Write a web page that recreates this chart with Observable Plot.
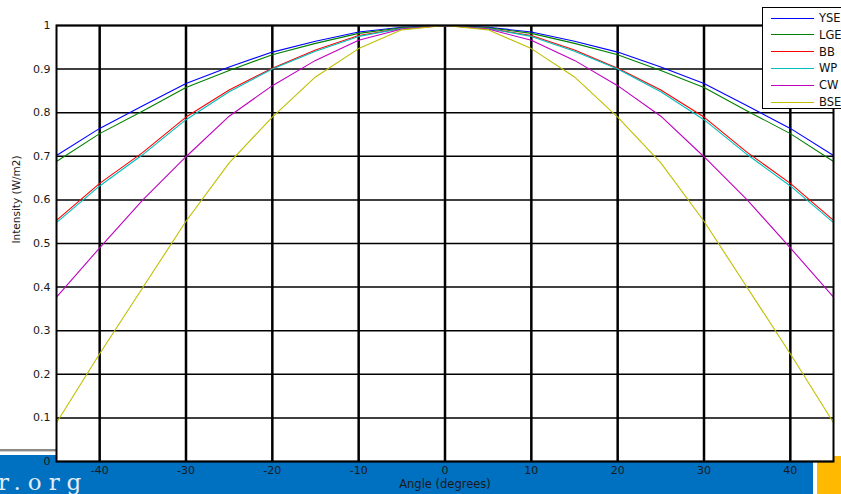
<!DOCTYPE html>
<html><head><meta charset="utf-8">
<script src="https://cdn.jsdelivr.net/npm/d3@7"></script>
<script src="https://cdn.jsdelivr.net/npm/@observablehq/plot@0.6"></script>
<style>
html,body{margin:0;padding:0;}
body{width:841px;height:494px;overflow:hidden;background:#fff;position:relative;font-family:"DejaVu Sans",sans-serif;}
.bg{position:absolute;}
#plot{position:absolute;left:0;top:0;}
#legend{position:absolute;left:762px;top:7px;width:100px;height:102px;border:1px solid #000;background:#fff;box-sizing:border-box;}
.lg-line{position:absolute;height:0;border-top:1px solid;}
.lg-text{position:absolute;font-size:11.5px;line-height:12px;color:#111;white-space:nowrap;}
#wm{position:absolute;left:-2px;top:470px;font-family:"DejaVu Serif",serif;font-size:23px;line-height:24px;letter-spacing:7px;color:#e4ecf5;white-space:nowrap;}
</style></head><body>
<div class="bg" style="left:0;top:449px;width:56px;height:2px;background:#8a8a8a"></div>
<div class="bg" style="left:0;top:451px;width:56px;height:1px;background:#d0d0d0"></div>
<div class="bg" style="left:0;top:455px;width:813px;height:39px;background:#0070c0"></div>
<div class="bg" style="left:817px;top:456px;width:24px;height:38px;background:#ffb900"></div>
<div id="wm">r.org</div>
<div id="plot"></div>
<div id="legend"></div>
<script>
const angles = [-45,-40,-35,-30,-25,-20,-15,-10,-5,0,5,10,15,20,25,30,35,40,45];
const seriesNames = ["YSE","LGE","BB","WP","CW","BSE"];
const seriesColors = ["#0000ff","#008000","#ff0000","#00bfbf","#bf00bf","#bfbf00"];
const yse = [0.702,0.764,0.816,0.867,0.905,0.939,0.964,0.985,0.996,1,0.996,0.985,0.964,0.939,0.905,0.867,0.816,0.764,0.702];
const lge = [0.688,0.752,0.804,0.858,0.897,0.933,0.959,0.982,0.995,1,0.995,0.982,0.959,0.933,0.897,0.858,0.804,0.752,0.688];
const bb  = [0.553,0.638,0.709,0.790,0.852,0.902,0.944,0.977,0.993,1,0.993,0.977,0.944,0.902,0.852,0.790,0.709,0.638,0.553];
const wp  = [0.548,0.632,0.704,0.784,0.848,0.900,0.941,0.975,0.993,1,0.993,0.975,0.941,0.900,0.848,0.784,0.704,0.632,0.548];
const cw  = [0.377,0.490,0.600,0.699,0.792,0.862,0.920,0.966,0.992,1,0.992,0.966,0.920,0.862,0.792,0.699,0.600,0.490,0.377];
const bse = [0.089,0.247,0.399,0.551,0.685,0.790,0.882,0.947,0.990,1,0.990,0.947,0.882,0.790,0.685,0.551,0.399,0.247,0.089];
const xTicks = [-40,-30,-20,-10,0,10,20,30,40];
const yTicks = [0,0.1,0.2,0.3,0.4,0.5,0.6,0.7,0.8,0.9,1];
const xTitle = "Angle (degrees)";
const yTitle = "Intensity (W/m2)";

const seriesValues = [yse,lge,bb,wp,cw,bse];
const data = seriesNames.flatMap((name,k)=>angles.map((a,i)=>({angle:a,value:seriesValues[k][i],name})));

const chart = Plot.plot({
  width:841, height:494,
  marginLeft:56, marginRight:8, marginTop:25, marginBottom:33,
  style:{background:"transparent", fontFamily:"'DejaVu Sans', sans-serif", fontSize:"11px", color:"#1a1a1a", overflow:"visible"},
  x:{domain:[-45,45], ticks:xTicks, tickSize:0, tickPadding:5, tickFormat:d=>String(d), label:null},
  y:{domain:[0,1], ticks:yTicks, tickSize:0, tickPadding:6, tickFormat:d=>String(+d.toFixed(1)), label:null},
  color:{domain:seriesNames, range:seriesColors},
  marks:[
    Plot.frame({fill:"white"}),
    Plot.ruleX(xTicks,{stroke:"#000",strokeWidth:2.5}),
    Plot.ruleY(yTicks,{stroke:"#000",strokeWidth:1.5}),
    Plot.line(data,{x:"angle",y:"value",z:"name",stroke:"name",strokeWidth:1.1}),
    Plot.frame({stroke:"#000",strokeWidth:2}),
    Plot.text([xTitle],{text:d=>d,frameAnchor:"bottom",dy:26,fontSize:11.5,fill:"#1a1a1a"}),
    Plot.text([yTitle],{text:d=>d,frameAnchor:"left",rotate:-90,dx:-40,fontSize:10.5,fill:"#1a1a1a"})
  ]
});
document.getElementById("plot").appendChild(chart);

const lg = document.getElementById("legend");
seriesNames.forEach((name,i)=>{
  const yc = 10 + i*16.8;
  const ln = document.createElement("div");
  ln.className="lg-line";
  ln.style.left="8px"; ln.style.width="43px"; ln.style.top=(yc-0.5)+"px";
  ln.style.borderTopColor=seriesColors[i];
  lg.appendChild(ln);
  const t = document.createElement("div");
  t.className="lg-text";
  t.style.left="56px"; t.style.top=(yc-6)+"px";
  t.textContent=name;
  lg.appendChild(t);
});
</script>
</body></html>
